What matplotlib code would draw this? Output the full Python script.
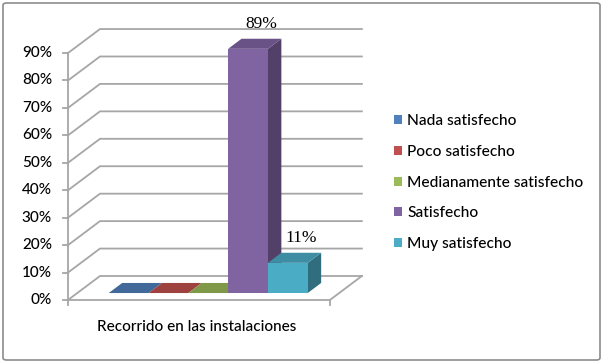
import matplotlib
matplotlib.use("Agg")
import matplotlib.pyplot as plt
from matplotlib.patches import Polygon, Patch, FancyBboxPatch
import matplotlib.colors as mcolors

# ---- data ----
categories = ["Nada satisfecho", "Poco satisfecho", "Medianamente satisfecho",
              "Satisfecho", "Muy satisfecho"]
values = [0, 0, 0, 89, 11]
data_labels = ["", "", "", "89%", "11%"]
yticks = [0, 10, 20, 30, 40, 50, 60, 70, 80, 90]
ytick_labels = ["0%", "10%", "20%", "30%", "40%", "50%", "60%", "70%", "80%", "90%"]
axis_title = "Recorrido en las instalaciones"
colors = ["#4F81BD", "#C0504D", "#9BBB59", "#8064A2", "#4BACC6"]

# ---- layout (pixel geometry of the 3D box) ----
W_PX, H_PX = 603, 363
ORIGIN_PX = (68, 300)      # front-bottom-left corner
UNIT_X_PX = 39.8           # pixels per bar width
UNIT_Y_PX = 2.744          # pixels per percent
DEPTH_PX = (32, 24)        # oblique depth offset of the walls
FLOOR_W = 6.58             # floor width in bar units
GAP = 0.79
Z_FRONT, Z_BACK = 0.29, 0.71

DX = DEPTH_PX[0] / UNIT_X_PX
DY = DEPTH_PX[1] / UNIT_Y_PX


def P(x, y, z):
    return (x + z * DX, y + z * DY)


fig = plt.figure(figsize=(W_PX / 100, H_PX / 100), dpi=100)
ax = fig.add_axes([0, 0, 1, 1])
ax.set_xlim(-ORIGIN_PX[0] / UNIT_X_PX, (W_PX - ORIGIN_PX[0]) / UNIT_X_PX)
ax.set_ylim(-(H_PX - ORIGIN_PX[1]) / UNIT_Y_PX, ORIGIN_PX[1] / UNIT_Y_PX)
ax.axis("off")

grid_c = "#A6A6A6"
lw = 1.3
font = "Lato"
fw = "medium"

# walls gridlines
for v in yticks:
    a, b, c = P(0, v, 0), P(0, v, 1), P(FLOOR_W, v, 1)
    ax.plot([a[0], b[0], c[0]], [a[1], b[1], c[1]], color=grid_c, lw=lw,
            solid_joinstyle="miter", zorder=1)
# floor edges
a, b, c = P(0, 0, 0), P(FLOOR_W, 0, 0), P(FLOOR_W, 0, 1)
ax.plot([a[0], b[0], c[0]], [a[1], b[1], c[1]], color=grid_c, lw=lw, zorder=1)
# front value axis
a, b = P(0, 0, 0), P(0, yticks[-1], 0)
ax.plot([a[0], b[0]], [a[1], b[1]], color=grid_c, lw=lw, zorder=1)
tick_len = 5 / UNIT_X_PX
for v, lab in zip(yticks, ytick_labels):
    a = P(0, v, 0)
    ax.plot([a[0] - tick_len, a[0]], [a[1], a[1]], color=grid_c, lw=lw, zorder=1)
    ax.text(a[0] - 16 / UNIT_X_PX, a[1], lab, ha="right", va="center",
            fontsize=11, family=font, fontweight=fw, color="black")
# category axis edge ticks
for xx in (0, FLOOR_W):
    a = P(xx, 0, 0)
    ax.plot([a[0], a[0]], [a[1], a[1] - 5 / UNIT_Y_PX], color=grid_c, lw=lw, zorder=1)


def shade(c, f):
    r, g, b = mcolors.to_rgb(c)
    return (r * f, g * f, b * f)


# bars
for i, (v, col, lab) in enumerate(zip(values, colors, data_labels)):
    x0, x1 = GAP + i, GAP + i + 1
    front = [P(x0, 0, Z_FRONT), P(x1, 0, Z_FRONT), P(x1, v, Z_FRONT), P(x0, v, Z_FRONT)]
    top = [P(x0, v, Z_FRONT), P(x1, v, Z_FRONT), P(x1, v, Z_BACK), P(x0, v, Z_BACK)]
    side = [P(x1, 0, Z_FRONT), P(x1, 0, Z_BACK), P(x1, v, Z_BACK), P(x1, v, Z_FRONT)]
    z = 2 + i
    if v > 0:
        ax.add_patch(Polygon(side, closed=True, facecolor=shade(col, 0.64),
                             edgecolor="none", zorder=z))
        ax.add_patch(Polygon(front, closed=True, facecolor=col,
                             edgecolor="none", zorder=z))
    ax.add_patch(Polygon(top, closed=True, facecolor=shade(col, 0.82),
                         edgecolor="none", zorder=z))
    if lab:
        p = P((x0 + x1) / 2, v, Z_BACK)
        ax.annotate(lab, p, xytext=(0, 10.5), textcoords="offset points",
                    ha="center", va="center", fontsize=12.5,
                    family="Liberation Serif", color="black", zorder=10)

# axis title
p = P(FLOOR_W / 2, 0, 0)
ax.annotate(axis_title, p, xytext=(-1.5, -19.5), textcoords="offset points",
            ha="center", va="center", fontsize=11, family=font, fontweight=fw,
            color="black")

# legend
handles = [Patch(facecolor=c, edgecolor="none") for c in colors]
fig.legend(handles, categories, loc="upper left",
           bbox_to_anchor=(394 / W_PX, 1 - 114 / H_PX), frameon=False,
           prop={"family": font, "size": 11.2, "weight": fw}, handlelength=0.5,
           handleheight=0.5, handletextpad=0.35, labelspacing=1.08,
           borderaxespad=0, borderpad=0)

# chart border
fig.patches.append(FancyBboxPatch((3 / W_PX, 3 / H_PX), 1 - 6 / W_PX, 1 - 6 / H_PX,
                                  boxstyle="round,pad=0,rounding_size=0.006",
                                  transform=fig.transFigure, facecolor="none",
                                  edgecolor="#8C8C8C", lw=1.2))

fig.savefig("out.png", dpi=100, facecolor="white")
